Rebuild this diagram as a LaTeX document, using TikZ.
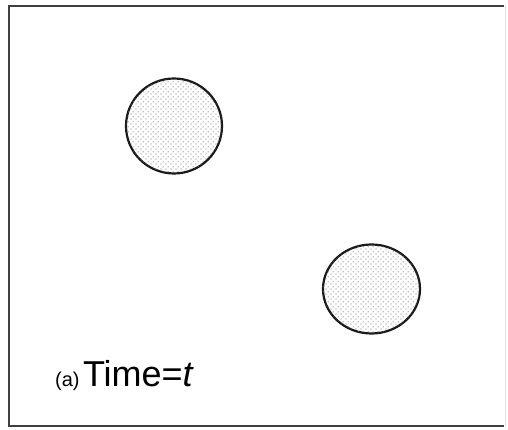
\documentclass[tikz,border=0pt]{standalone}
\usepackage{fontspec}
\setmainfont{Liberation Sans}
\usepackage{tikz}
\usetikzlibrary{positioning,shapes.geometric,patterns.meta}
\tikzdeclarepattern{
  name=sparsedots,
  type=uncolored,
  bounding box={(0pt,0pt) and (5pt,5pt)},
  tile size={(5pt,5pt)},
  code={
    \fill (1.25pt,1.25pt) circle (0.75pt);
    \fill (3.75pt,3.75pt) circle (0.75pt);
  }
}
\tikzset{
  frame/.style={draw=black!75, line width=2.6pt},
  drop/.style={draw=black!90, ellipse, line width=2.2pt, fill=white, inner sep=0pt,
    postaction={pattern=sparsedots, pattern color=black!50}},
  lab/.style={inner sep=0pt, anchor=base west},
}
\begin{document}
\begin{tikzpicture}[x=1pt, y=1pt]
  \useasboundingbox (0,0) rectangle (508,430);
  \fill[white] (0,0) rectangle (508,430);

  % box
  \draw[black!12, line width=1pt] (505,424) -- (505,4);
  \draw[frame] (504,424) -- (9,424) -- (9,4) -- (504,4);

  % drops
  \node[drop, minimum width=96pt, minimum height=95pt] (d1) at (174,304) {};
  \node[drop, minimum width=97pt, minimum height=89pt] (d2) at (371.5,141) {};

  % label
  \node[lab, font=\fontsize{20}{22}\selectfont] (tag) at (55,43) {(a)};
  \node[lab, font=\fontsize{36}{40}\selectfont, right=3pt of tag.base east, anchor=base west] (time) {Time=\textit{t}};
\end{tikzpicture}
\end{document}
